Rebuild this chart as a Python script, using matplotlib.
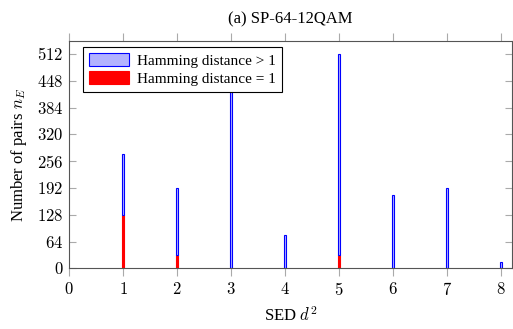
import matplotlib.pyplot as plt
import numpy as np

plt.rcParams['font.family'] = ['Liberation Serif', 'DejaVu Serif']
plt.rcParams['mathtext.fontset'] = 'cm'

# 数据：平方欧氏距离与对应的点对数
sed = [1, 2, 3, 4, 5, 6, 7, 8]
pairs_ham1 = [128, 32, 0, 0, 32, 0, 0, 0]          # Hamming distance = 1
pairs_ham_gt1 = [144, 160, 448, 80, 480, 176, 192, 16]  # Hamming distance > 1
yticks = [0, 64, 128, 192, 256, 320, 384, 448, 512]
xticks = [0, 1, 2, 3, 4, 5, 6, 7, 8]

fig = plt.figure(figsize=(5.13, 3.29), dpi=100)
ax = fig.add_axes([0.1345, 0.1845, 0.863, 0.691])

w = 0.045
ax.bar(sed, pairs_ham1, width=w, color='red', edgecolor='red', linewidth=0.8,
       label='Hamming distance = 1', zorder=2)
ax.bar(sed, pairs_ham_gt1, width=w, bottom=pairs_ham1, color='#b3b3ff',
       edgecolor='blue', linewidth=0.8, label='Hamming distance > 1', zorder=2)

ax.set_xlim(0, 8.2)
ax.set_ylim(0, 543)
ax.set_xticks(xticks)
ax.set_xticklabels([f'${v}$' for v in xticks], fontsize=12)
ax.set_yticks(yticks)
ax.set_yticklabels([f'${v}$' for v in yticks], fontsize=12)
# x 刻度朝外，y 刻度朝内（仿 pgfplots）
ax.tick_params(axis='x', direction='out', length=6, color='#aaaaaa', top=True,
               labeltop=False, pad=4)
ax.tick_params(axis='y', direction='in', length=5, color='#aaaaaa', right=True,
               labelright=False, pad=4)
for s in ax.spines.values():
    s.set_color('#555555')
    s.set_linewidth(0.8)

ax.set_xlabel('SED $d^2$', fontsize=12, labelpad=5)
ax.set_ylabel('Number of pairs $n_E$', fontsize=12, labelpad=6)
ax.set_title('(a) SP-64-12QAM', fontsize=12, pad=13)

h, l = ax.get_legend_handles_labels()
leg = ax.legend(h[::-1], l[::-1], loc='upper left', bbox_to_anchor=(0.032, 0.972),
                fontsize=11, frameon=True, fancybox=False, edgecolor='black',
                framealpha=1, handlelength=2.6, handleheight=0.9,
                borderaxespad=0, labelspacing=0.2, handletextpad=0.5)
leg.get_frame().set_linewidth(0.8)
leg.set_zorder(5)

fig.savefig('out.png', dpi=100)
